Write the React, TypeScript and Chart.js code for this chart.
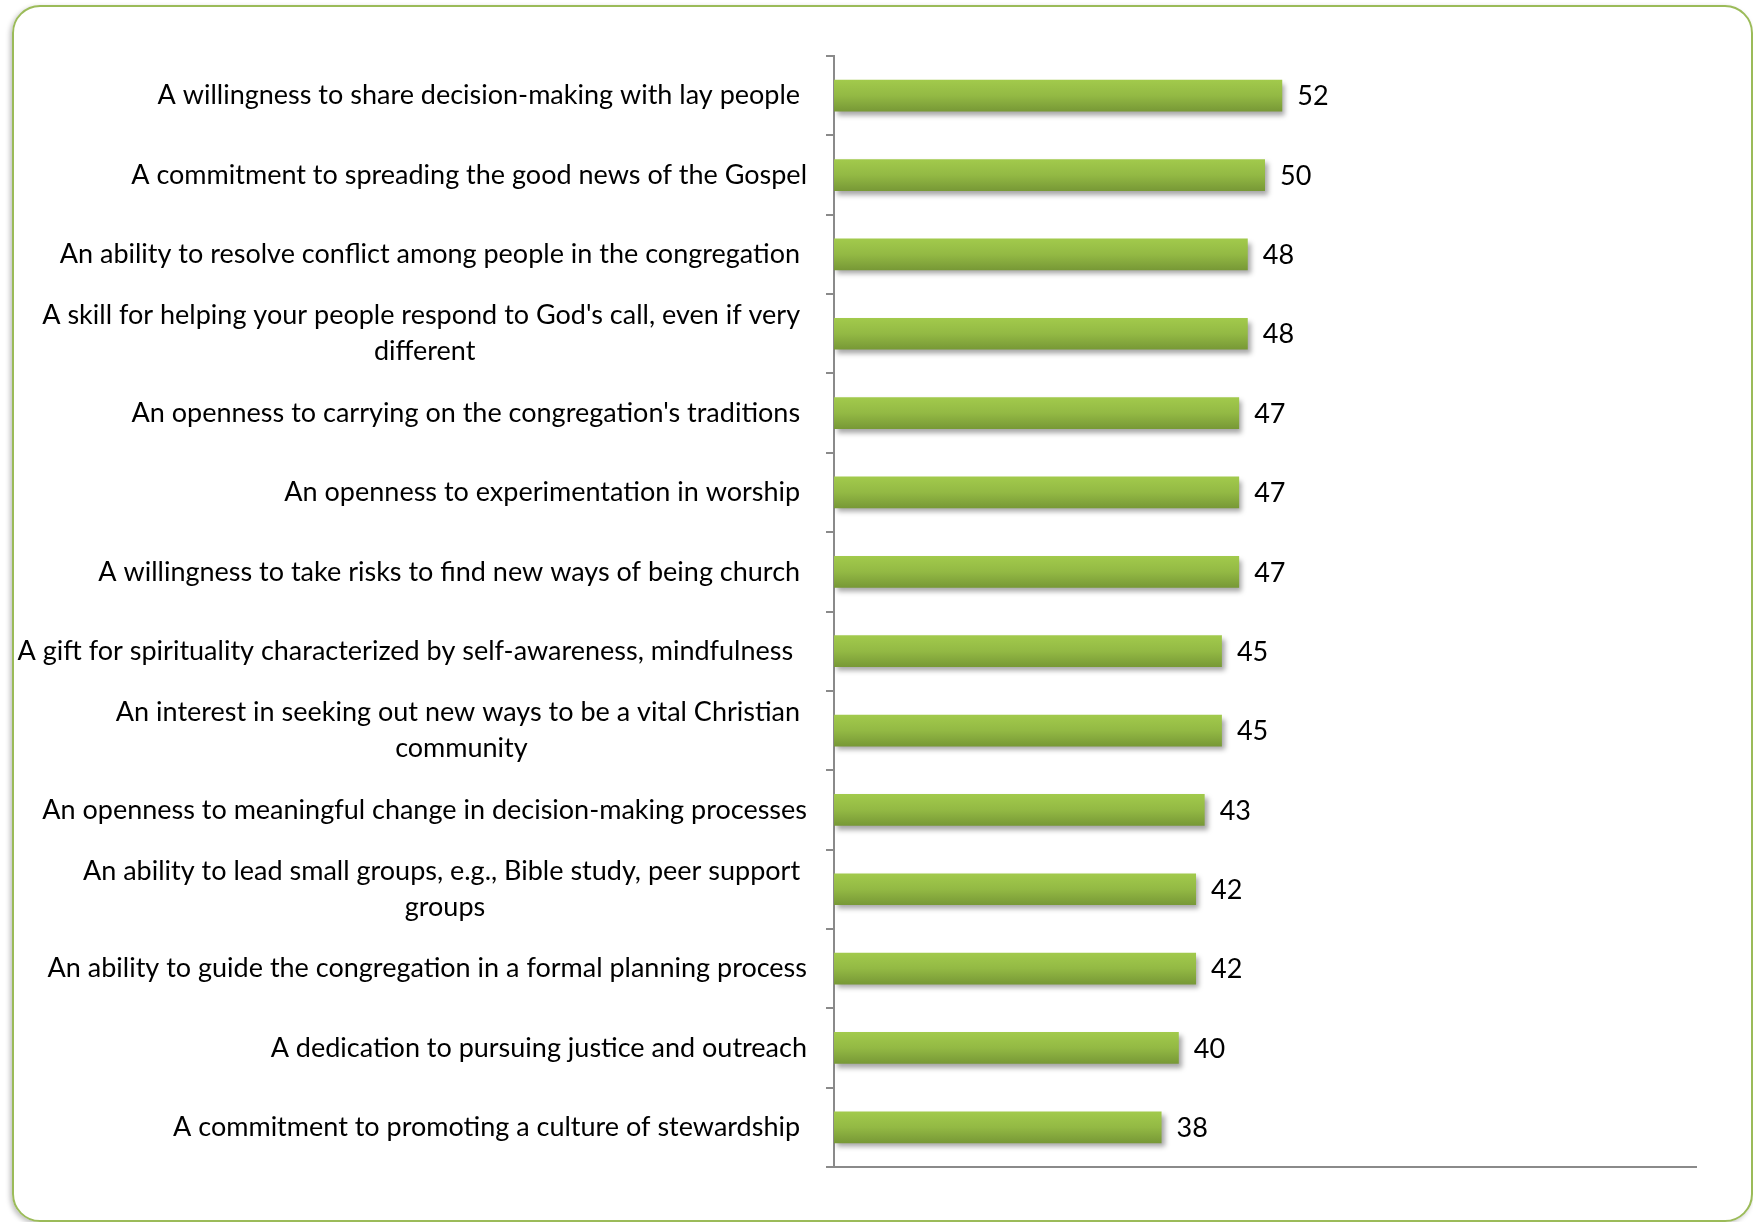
import React, { useEffect, useRef } from "react";
import { Chart, registerables } from "chart.js";

Chart.register(...registerables);

const categories: string[][] = [
  ["A willingness to share decision-making with lay people "],
  ["A commitment to spreading the good news of the Gospel"],
  ["An ability to resolve conflict among people in the congregation "],
  ["A skill for helping your people respond to God's call, even if very ", "different"],
  ["An openness to carrying on the congregation's traditions "],
  ["An openness to experimentation in worship "],
  ["A willingness to take risks to find new ways of being church "],
  ["A gift for spirituality characterized by self-awareness, mindfulness  "],
  ["An interest in seeking out new ways to be a vital Christian ", "community"],
  ["An openness to meaningful change in decision-making processes"],
  ["An ability to lead small groups, e.g., Bible study, peer support ", "groups"],
  ["An ability to guide the congregation in a formal planning process"],
  ["A dedication to pursuing justice and outreach"],
  ["A commitment to promoting a culture of stewardship "],
];

const values: number[] = [52, 50, 48, 48, 47, 47, 47, 45, 45, 43, 42, 42, 40, 38];

const axisMin = 0;
const axisMax = 100;

const FONT = "Lato, 'Open Sans', sans-serif";
const FONT_SIZE = 27;
const BAR_PCT = 0.4;

function barGradient(c: any) {
  const chart = c.chart;
  const yScale = chart.scales && chart.scales.y;
  if (!chart.chartArea || !yScale || c.dataIndex === undefined) return "#93b944";
  const cy = yScale.getPixelForValue(c.dataIndex);
  const catH = (chart.chartArea.bottom - chart.chartArea.top) / values.length;
  const h = catH * BAR_PCT;
  const g = chart.ctx.createLinearGradient(0, cy - h / 2, 0, cy + h / 2);
  g.addColorStop(0, "#a2ca4c");
  g.addColorStop(0.5, "#93b944");
  g.addColorStop(1, "#779836");
  return g;
}

const barShadowPlugin = {
  id: "barShadow",
  beforeDatasetDraw(chart: any) {
    const ctx = chart.ctx;
    ctx.save();
    ctx.shadowColor = "rgba(0,0,0,0.35)";
    ctx.shadowBlur = 5;
    ctx.shadowOffsetX = 3;
    ctx.shadowOffsetY = 4;
  },
  afterDatasetDraw(chart: any) {
    chart.ctx.restore();
  },
};

const labelPlugin = {
  id: "customLabels",
  afterDraw(chart: any) {
    const ctx = chart.ctx;
    const meta = chart.getDatasetMeta(0);
    const yScale = chart.scales.y;
    const rightX = chart.chartArea.left - 27;
    const lineH = 36;
    ctx.save();
    ctx.font = `${FONT_SIZE}px ${FONT}`;
    ctx.fillStyle = "#000000";
    ctx.textBaseline = "middle";
    categories.forEach((lines, i) => {
      const cy = yScale.getPixelForValue(i);
      const widths = lines.map((l) => ctx.measureText(l).width);
      const blockW = Math.max(...widths);
      const cx = rightX - blockW / 2;
      lines.forEach((l, j) => {
        const y = cy + (j - (lines.length - 1) / 2) * lineH;
        if (lines.length === 1) {
          ctx.textAlign = "right";
          ctx.fillText(l, rightX, y);
        } else {
          ctx.textAlign = "center";
          ctx.fillText(l, cx, y);
        }
      });
    });
    meta.data.forEach((bar: any, i: number) => {
      ctx.textAlign = "left";
      ctx.fillText(String(values[i]), bar.x + 15, bar.y + 1);
    });
    ctx.restore();
  },
};

export default function App() {
  const ref = useRef<HTMLCanvasElement>(null);
  useEffect(() => {
    if (!ref.current) return;
    const chart = new Chart(ref.current, {
      type: "bar",
      data: {
        labels: categories.map((c) => c.join(" ")),
        datasets: [
          {
            data: values,
            backgroundColor: barGradient,
            borderWidth: 0,
            categoryPercentage: 1,
            barPercentage: BAR_PCT,
          },
        ],
      },
      options: {
        indexAxis: "y",
        animation: false,
        responsive: false,
        devicePixelRatio: 1,
        layout: { padding: { left: 826, top: 56, right: 57, bottom: 55 } },
        plugins: {
          legend: { display: false },
          tooltip: { enabled: false },
        },
        scales: {
          x: {
            min: axisMin,
            max: axisMax,
            ticks: { display: false },
            grid: { display: false, drawTicks: false },
            border: { display: true, color: "#8a8a8a", width: 2 },
            afterFit: (s: any) => {
              s.height = 0;
            },
          },
          y: {
            ticks: { display: false },
            grid: {
              display: true,
              drawOnChartArea: false,
              drawTicks: true,
              tickLength: 8,
              offset: true,
              color: "#8a8a8a",
              lineWidth: 2,
            },
            border: { display: true, color: "#8a8a8a", width: 2 },
            afterFit: (s: any) => {
              s.width = 8;
            },
          },
        },
      },
      plugins: [barShadowPlugin, labelPlugin],
    });
    return () => chart.destroy();
  }, []);

  return (
    <div style={{ position: "fixed", left: 0, top: 0, width: 1753, height: 1222, background: "#ffffff", overflow: "hidden" }}>
      <div
        style={{
          position: "absolute",
          left: 12,
          top: 5,
          width: 1741,
          height: 1217,
          border: "2px solid #9bbb59",
          borderRadius: 28,
          boxShadow: "-2px 2px 5px rgba(0,0,0,0.25)",
          boxSizing: "border-box",
        }}
      />
      <canvas ref={ref} width={1753} height={1222} style={{ position: "absolute", left: 0, top: 0 }} />
    </div>
  );
}
